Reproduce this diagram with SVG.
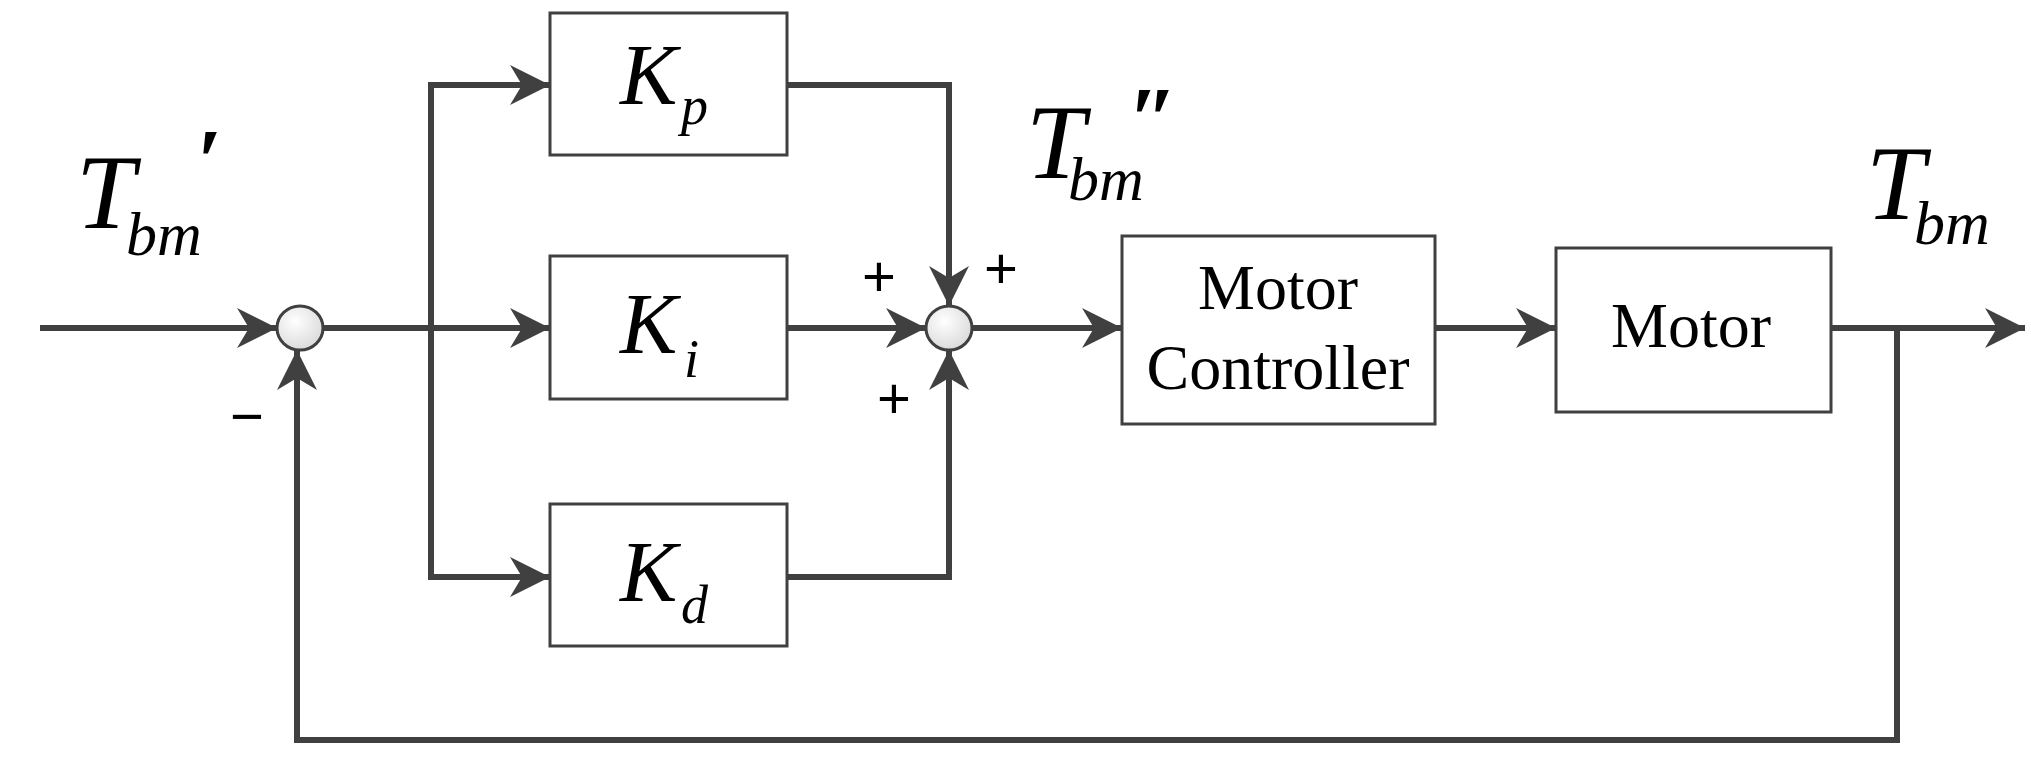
<svg xmlns="http://www.w3.org/2000/svg" width="2031" height="762" viewBox="0 0 2031 762">
<style>
.box{fill:#fff;stroke:#404040;stroke-width:3}
.w{fill:none;stroke:#404040;stroke-width:6}
.a{marker-end:url(#ar)}
.sum{fill:url(#g);stroke:#404040;stroke-width:3}
.m{font-family:"Liberation Serif",serif;font-style:italic;fill:#000}
.p{font-family:"Liberation Serif",serif;font-style:italic;font-weight:bold;fill:#000}
.t{font-family:"Liberation Serif",serif;font-size:64px;fill:#000;text-anchor:middle}
.s{font-family:"Liberation Sans",sans-serif;font-size:58px;fill:#000}
</style>
<defs>
<marker id="ar" markerUnits="userSpaceOnUse" markerWidth="44" markerHeight="44" viewBox="-40 -22 44 44" refX="0" refY="0" orient="auto" overflow="visible">
<path d="M0,0 L-40,-20 L-28,0 L-40,20 Z" fill="#404040"/>
</marker>
<radialGradient id="g" cx="0.4" cy="0.35" r="0.7"><stop offset="0" stop-color="#ffffff"/><stop offset="1" stop-color="#d8d8d8"/></radialGradient>
</defs>
<g id="connectors">
<path class="w a" d="M40,328 H277"/>
<path class="w" d="M323,328 H431"/>
<path class="w a" d="M431,328 H550"/>
<path class="w a" d="M431,328 V85 H550"/>
<path class="w a" d="M431,328 V577 H550"/>
<path class="w a" d="M787,85 H949 V306"/>
<path class="w a" d="M787,328 H926"/>
<path class="w a" d="M787,577 H949 V350"/>
<path class="w a" d="M972,328 H1122"/>
<path class="w a" d="M1435,328 H1556"/>
<path class="w a" d="M1831,328 H2025"/>
<path class="w a" d="M1897,328 V740 H297 V350"/>
</g>
<g id="sum1"><ellipse class="sum" cx="300" cy="328" rx="23" ry="22"/></g>
<g id="sum2"><ellipse class="sum" cx="949" cy="328" rx="23" ry="22"/></g>
<g id="kp"><rect class="box" x="550" y="13" width="237" height="142"/>
<text class="m" x="620" y="104" font-size="86">K</text><text class="m" x="681" y="124" font-size="54">p</text></g>
<g id="ki"><rect class="box" x="550" y="256" width="237" height="143"/>
<text class="m" x="620" y="353" font-size="86">K</text><text class="m" x="684" y="377" font-size="54">i</text></g>
<g id="kd"><rect class="box" x="550" y="504" width="237" height="142"/>
<text class="m" x="620" y="601" font-size="86">K</text><text class="m" x="681" y="623" font-size="54">d</text></g>
<g id="mc"><rect class="box" x="1122" y="236" width="313" height="188"/>
<text class="t" x="1278" y="309">Motor</text><text class="t" x="1278" y="389">Controller</text></g>
<g id="motor"><rect class="box" x="1556" y="248" width="275" height="164"/>
<text class="t" x="1691" y="347">Motor</text></g>
<g id="labels">
<text class="m" x="76" y="228" font-size="106">T</text><text class="m" x="126" y="255" font-size="62">bm</text><text class="p" x="196" y="192" font-size="90">′</text>
<text class="m" x="1026" y="178" font-size="106">T</text><text class="m" x="1068" y="200" font-size="62">bm</text><text class="p" x="1128" y="150" font-size="90">″</text>
<text class="m" x="1866" y="219" font-size="106">T</text><text class="m" x="1914" y="244" font-size="62">bm</text>
<text class="s" x="862" y="296">+</text><text class="s" x="984" y="288">+</text><text class="s" x="877" y="418">+</text>
<text class="s" x="230" y="436">−</text>
</g>
</svg>
